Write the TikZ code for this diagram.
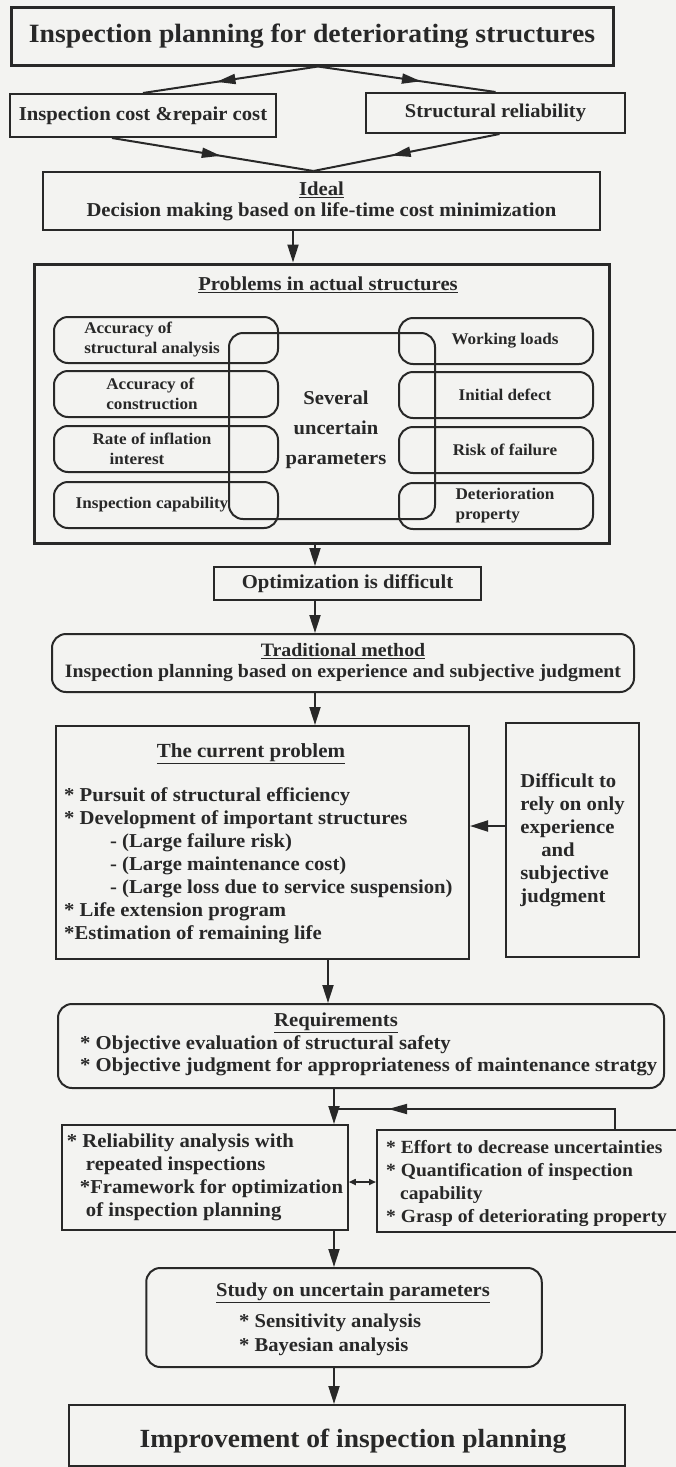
\documentclass[tikz,border=0pt]{standalone}
\usepackage{fontspec}
\setmainfont{Liberation Serif}[FakeStretch=1.05]
\usetikzlibrary{arrows.meta,positioning,decorations.markings,calc}
\definecolor{ink}{RGB}{40,40,40}
\definecolor{paper}{RGB}{243,243,241}

\begin{document}
\begin{tikzpicture}
[x=1pt,y=-1pt,
inner sep=0pt,
every node/.style={text=ink},
box/.style={rectangle,draw=ink,line width=2pt},
rbox/.style={box,rounded corners=14pt},
heading/.style={font=\bfseries\fontsize{19.7}{21}\selectfont,align=center},
bodytext/.style={font=\bfseries\fontsize{19.7}{23}\selectfont,align=left},
param/.style={font=\bfseries\fontsize{16.3}{20}\selectfont,align=left},
post/.style={-{Triangle[length=18pt,width=11pt]},line width=2pt,draw=ink},
twoway/.style={{Triangle[length=7pt,width=6pt]}-{Triangle[length=7pt,width=6pt]},line width=1.6pt,draw=ink},
mid/.style={line width=2pt,draw=ink,postaction={decorate},
  decoration={markings,mark=at position #1 with {\arrow{Triangle[length=19pt,width=10pt]}}}},
mid/.default=0.58]
\useasboundingbox (0,0) rectangle (676,1467);
\clip (0,0) rectangle (676,1467);
\fill[paper] (0,0) rectangle (676,1467);

% top of the chart
\node[box,line width=3pt,minimum width=602,minimum height=58,font=\bfseries\fontsize{26.4}{30}\selectfont] (plan) at (312,36) {Inspection planning for deteriorating structures};
\node[box,minimum width=266,minimum height=43,heading] (cost) at (143,115.5) {Inspection cost \&repair cost};
\node[box,minimum width=259,minimum height=40,heading,font=\bfseries\fontsize{19.5}{21}\selectfont] (rely) at (495.5,113) {Structural reliability};
\node[box,minimum width=557,minimum height=58,heading] (ideal) at (321.5,201) {\underline{Ideal}\\Decision making based on life-time cost minimization};

% problems in actual structures
\node[box,line width=3pt,minimum width=574.5,minimum height=279] (probs) at (321.75,403.5) {};
\node[heading] (probtitle) at (328,285) {\underline{Problems in actual structures}};
\node[rbox,minimum width=206,minimum height=186] (several) at (332,426) {};
\node[font=\bfseries\fontsize{19.6}{30}\selectfont,align=center] (severaltext) at (336,430) {Several\\uncertain\\parameters};
\foreach \n/\y/\t in {1/340/{Accuracy of\\structural analysis},
                      2/394/{Accuracy of\\construction},
                      3/449/{Rate of inflation\\\hspace*{17pt}interest},
                      4/505/{Inspection capability}}
{
  \node[rbox,minimum width=224,minimum height=46] (left\n) at (166,\y) {};
  \node[param] (lefttext\n) at (152,\y) {\t};
}
\foreach \n/\y/\t in {1/341/{Working loads},
                      2/395/{Initial defect},
                      3/450/{Risk of failure},
                      4/506/{Deterioration\\property}}
{
  \node[rbox,minimum width=194,minimum height=46] (right\n) at (496,\y) {};
  \node[param] (righttext\n) at (505,\y) {\t};
}

% traditional way
\node[box,minimum width=267,minimum height=33,heading] (opt) at (347.5,583.5) {Optimization is difficult};
\node[rbox,minimum width=582,minimum height=58,heading,font=\bfseries\fontsize{18.9}{21}\selectfont] (trad) at (343,663) {\underline{Traditional method}\\Inspection planning based on experience and subjective judgment};

% current problem
\node[box,minimum width=413,minimum height=233] (cur) at (262.5,842.5) {};
\node[heading,font=\bfseries\fontsize{20}{22}\selectfont] (curtitle) at (251,754) {\underline{The current problem}};
\node[bodytext,anchor=west] (curlist) at (64,866) {* Pursuit of structural efficiency\\
* Development of important structures\\
\hspace*{46pt}- (Large failure risk)\\
\hspace*{46pt}- (Large maintenance cost)\\
\hspace*{46pt}- (Large loss due to service suspension)\\
* Life extension program\\
*Estimation of remaining life};
\node[box,minimum width=133,minimum height=234,bodytext] (diff) at (572.5,840) {Difficult to\\rely on only\\experience\\\hspace*{21pt}and\\subjective\\judgment};

% requirements
\node[rbox,minimum width=606,minimum height=84] (req) at (361,1046) {};
\node[heading] (reqtitle) at (336,1023) {\underline{Requirements}};
\node[bodytext,anchor=west,font=\bfseries\fontsize{19.7}{22}\selectfont] (reqlist) at (80,1056) {* Objective evaluation of structural safety\\* Objective judgment for appropriateness of maintenance stratgy};

% two lines of work
\node[box,minimum width=285.5,minimum height=105,bodytext] (relan) at (205,1177.5) {* Reliability analysis with\\\hspace*{19pt}repeated inspections\\\hspace*{13pt}*Framework for optimization\\\hspace*{19pt}of inspection planning};
\node[box,minimum width=323,minimum height=102] (effort) at (538.5,1181) {};
\node[bodytext,anchor=west,font=\bfseries\fontsize{18.6}{23}\selectfont] (efforttext) at (386,1183) {* Effort to decrease uncertainties\\* Quantification of inspection\\\hspace*{14pt}capability\\* Grasp of deteriorating property};

% study and result
\node[rbox,minimum width=395.5,minimum height=99] (study) at (344,1317.5) {};
\node[heading,font=\bfseries\fontsize{19.6}{21}\selectfont] (studytitle) at (353,1293) {\underline{Study on uncertain parameters}};
\node[bodytext,anchor=west,font=\bfseries\fontsize{19.6}{24}\selectfont] (studylist) at (239,1335) {* Sensitivity analysis\\* Bayesian analysis};
\node[box,minimum width=556,minimum height=61] (impr) at (347,1435.5) {};
\node[font=\bfseries\fontsize{26.2}{30}\selectfont] (imprtext) at (353,1441) {Improvement of inspection planning};

% connectors
\coordinate (axisa) at (293,0);
\coordinate (axisb) at (315,0);
\coordinate (axisc) at (328,0);
\coordinate (axisd) at (334,0);
\coordinate (sideline) at (0,826);
\coordinate (linkline) at (0,1182);
\coordinate (fbturn) at (615,1109);
\coordinate (fbjoin) at (334,1109);

\draw[mid] ([xshift=6pt]plan.south) -- (cost.north);
\draw[mid] ([xshift=6pt]plan.south) -- (rely.north);
\draw[mid=0.54] ([xshift=-31pt]cost.south) -- ([xshift=-8pt]ideal.north);
\draw[mid] ([xshift=4pt]rely.south) -- ([xshift=-8pt]ideal.north);
\draw[post] (ideal.south -| axisa) -- (probs.north -| axisa);
\draw[post] (probs.south -| axisb) -- (opt.north -| axisb);
\draw[post] (opt.south -| axisb) -- (trad.north -| axisb);
\draw[post] (trad.south -| axisb) -- (cur.north -| axisb);
\draw[post] (diff.west |- sideline) -- (cur.east |- sideline);
\draw[post] (cur.south -| axisc) -- (req.north -| axisc);
\draw[post] (req.south -| axisd) -- (relan.north -| axisd);
\draw[mid=0.82] (effort.north -| fbturn) -- (fbturn) -- (fbjoin);
\draw[twoway] (relan.east |- linkline) -- (effort.west |- linkline);
\draw[post] (relan.south -| axisd) -- (study.north -| axisd);
\draw[post] (study.south -| axisd) -- (impr.north -| axisd);
\end{tikzpicture}
\end{document}
